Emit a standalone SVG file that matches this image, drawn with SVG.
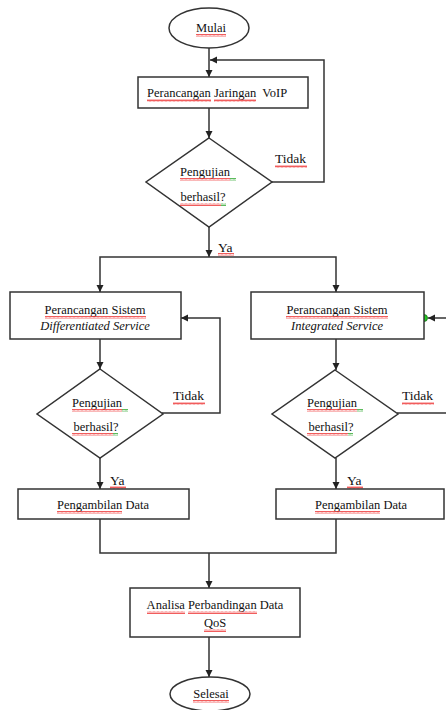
<svg xmlns="http://www.w3.org/2000/svg" width="446" height="710" viewBox="0 0 446 710">
<style>
.shape{fill:#fff;stroke:#333;stroke-width:1.5}
.conn{fill:none;stroke:#333;stroke-width:1.5}
.t{font-family:"Liberation Serif","Times New Roman",serif;font-size:12.5px;fill:#111}
.m{text-anchor:middle}
.i{font-style:italic}
.lbl{font-size:13.5px}
.sq{fill:url(#red)}
.sg{fill:url(#green)}
</style>
<defs>
<marker id="arr" markerUnits="userSpaceOnUse" markerWidth="8" markerHeight="8" refX="7" refY="4" orient="auto">
<path d="M0,0.5 L7,4 L0,7.5 z" fill="#222"/>
</marker>
<pattern id="red" patternUnits="userSpaceOnUse" width="4" height="3">
<path d="M0,2.5 L1,0.5 L2,2.5 L3,0.5 L4,2.5" fill="none" stroke="#e33" stroke-width="0.8"/>
</pattern>
<pattern id="green" patternUnits="userSpaceOnUse" width="4" height="3">
<path d="M0,2.5 L1,0.5 L2,2.5 L3,0.5 L4,2.5" fill="none" stroke="#3a3" stroke-width="0.8"/>
</pattern>
</defs>

<g id="connectors">
<path class="conn" d="M209,48 V77" marker-end="url(#arr)"/>
<path class="conn" d="M209,108 V138" marker-end="url(#arr)"/>
<path class="conn" d="M270,182 H324 V60 H210" marker-end="url(#arr)"/>
<path class="conn" d="M209,227 V257" marker-end="url(#arr)"/>
<path class="conn" d="M209,257 H100 V292" marker-end="url(#arr)"/>
<path class="conn" d="M209,257 H336 V292" marker-end="url(#arr)"/>
<path class="conn" d="M100,339 V369" marker-end="url(#arr)"/>
<path class="conn" d="M162,413 H220 V318 H181" marker-end="url(#arr)"/>
<path class="conn" d="M100,458 V489" marker-end="url(#arr)"/>
<path class="conn" d="M336,339 V370" marker-end="url(#arr)"/>
<path class="conn" d="M397,413 H446"/>
<path class="conn" d="M446,318 H428" marker-end="url(#arr)"/>
<path class="conn" d="M336,458 V489" marker-end="url(#arr)"/>
<path class="conn" d="M100,519 V553 H336 V519"/>
<path class="conn" d="M209,553 V588" marker-end="url(#arr)"/>
<path class="conn" d="M209,637 V677" marker-end="url(#arr)"/>
<circle cx="424" cy="318" r="3.5" fill="#2c2" stroke="#161" stroke-width="0.8"/>
</g>

<g id="mulai">
<ellipse class="shape" cx="209" cy="28" rx="40" ry="20"/>
<text class="t m" x="211" y="32">Mulai</text>
<rect class="sq" x="196" y="34" width="30" height="3"/>
</g>

<g id="perancangan-voip">
<rect class="shape" x="138" y="77" width="170" height="31"/>
<text class="t" x="147" y="97" xml:space="preserve">Perancangan Jaringan  VoIP</text>
<rect class="sq" x="147" y="99" width="64" height="3"/>
<rect class="sq" x="214" y="99" width="42" height="3"/>
</g>

<g id="pengujian-1">
<polygon class="shape" points="209,138 272,182 209,227 146,182"/>
<text class="t m" x="205" y="176">Pengujian</text>
<text class="t m" x="203" y="201">berhasil?</text>
<rect class="sq" x="180" y="178" width="50" height="3"/>
<rect class="sg" x="230" y="178" width="6" height="3"/>
<rect class="sq" x="180" y="203" width="41" height="3"/>
<rect class="sg" x="221" y="203" width="5" height="3"/>
</g>
<g id="label-tidak-1">
<text class="t lbl" x="275" y="163">Tidak</text>
<rect class="sq" x="275" y="165" width="32" height="3"/>
</g>
<g id="label-ya-1">
<text class="t lbl" x="218" y="252">Ya</text>
<rect class="sq" x="218" y="253" width="16" height="3"/>
</g>

<g id="perancangan-diffserv">
<rect class="shape" x="10" y="292" width="171" height="47"/>
<text class="t m" x="95" y="314">Perancangan Sistem</text>
<text class="t m i" x="95" y="330">Differentiated Service</text>
<rect class="sq" x="45" y="316" width="101" height="3"/>
</g>

<g id="perancangan-intserv">
<rect class="shape" x="251" y="292" width="173" height="47"/>
<text class="t m" x="337" y="314">Perancangan Sistem</text>
<text class="t m i" x="337" y="330">Integrated Service</text>
<rect class="sq" x="286" y="316" width="102" height="3"/>
</g>

<g id="pengujian-2">
<polygon class="shape" points="100,369 163,414 100,458 37,414"/>
<text class="t m" x="97" y="407">Pengujian</text>
<text class="t m" x="96" y="431">berhasil?</text>
<rect class="sq" x="72" y="409" width="50" height="3"/>
<rect class="sg" x="122" y="409" width="6" height="3"/>
<rect class="sq" x="72" y="433" width="41" height="3"/>
<rect class="sg" x="113" y="433" width="5" height="3"/>
</g>
<g id="label-tidak-2">
<text class="t lbl" x="173" y="400">Tidak</text>
<rect class="sq" x="173" y="402" width="32" height="3"/>
</g>
<g id="label-ya-2">
<text class="t lbl" x="110" y="485">Ya</text>
<rect class="sq" x="110" y="486" width="16" height="3"/>
</g>

<g id="pengujian-3">
<polygon class="shape" points="335,370 398,414 335,458 272,414"/>
<text class="t m" x="332" y="407">Pengujian</text>
<text class="t m" x="331" y="431">berhasil?</text>
<rect class="sq" x="307" y="409" width="50" height="3"/>
<rect class="sg" x="357" y="409" width="6" height="3"/>
<rect class="sq" x="307" y="433" width="41" height="3"/>
<rect class="sg" x="348" y="433" width="5" height="3"/>
</g>
<g id="label-tidak-3">
<text class="t lbl" x="402" y="400">Tidak</text>
<rect class="sq" x="402" y="402" width="32" height="3"/>
</g>
<g id="label-ya-3">
<text class="t lbl" x="347" y="485">Ya</text>
<rect class="sq" x="347" y="486" width="16" height="3"/>
</g>

<g id="pengambilan-data-1">
<rect class="shape" x="18" y="489" width="171" height="30"/>
<text class="t m" x="103" y="509">Pengambilan Data</text>
<rect class="sq" x="57" y="511" width="65" height="3"/>
</g>

<g id="pengambilan-data-2">
<rect class="shape" x="276" y="489" width="168" height="30"/>
<text class="t m" x="361" y="509">Pengambilan Data</text>
<rect class="sq" x="315" y="511" width="65" height="3"/>
</g>

<g id="analisa">
<rect class="shape" x="130" y="588" width="170" height="49"/>
<text class="t m" x="215" y="609">Analisa Perbandingan Data</text>
<text class="t m" x="215" y="627">QoS</text>
<rect class="sq" x="147" y="611" width="38" height="3"/>
<rect class="sq" x="188" y="611" width="69" height="3"/>
<rect class="sq" x="204" y="629" width="22" height="3"/>
</g>

<g id="selesai">
<ellipse class="shape" cx="210" cy="694" rx="40" ry="17"/>
<text class="t m" x="211" y="698">Selesai</text>
<rect class="sq" x="193" y="700" width="36" height="3"/>
</g>
</svg>
